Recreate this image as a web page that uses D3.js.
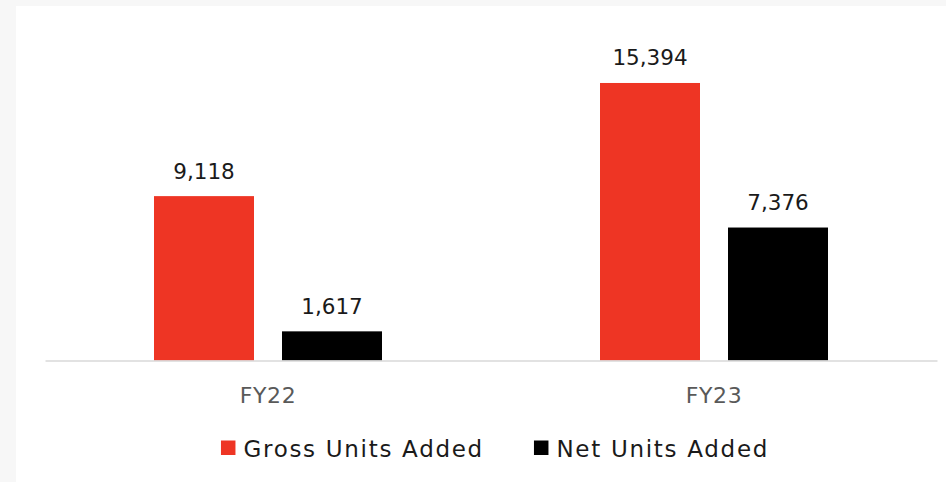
<!DOCTYPE html>
<html>
<head>
<meta charset="utf-8">
<script src="https://cdn.jsdelivr.net/npm/d3@7"></script>
<style>
  html, body { margin: 0; padding: 0; background: #f7f7f7; }
  svg { display: block; }
  text { font-family: "DejaVu Sans", "Noto Sans", sans-serif; }
</style>
</head>
<body>
<svg id="chart" width="946" height="482"></svg>
<script>
const categories = ["FY22", "FY23"];
const seriesNames = ["Gross Units Added", "Net Units Added"];
const grossValues = [9118, 15394];
const netValues = [1617, 7376];
const seriesColors = ["#EE3524", "#000000"];

const W = 946, H = 482;
const svg = d3.select("#chart");

svg.append("rect").attr("x", 0).attr("y", 0).attr("width", W).attr("height", H).attr("fill", "#f7f7f7");
svg.append("rect").attr("x", 16).attr("y", 6).attr("width", W - 16).attr("height", H - 6).attr("fill", "#ffffff");

const plot = { left: 45, right: 937, top: 36, bottom: 360.5 };

const groupW = 228;
const x0 = d3.scaleBand().domain(categories).range([plot.left, plot.right]).paddingInner(0).paddingOuter(0);
const x1 = d3.scaleBand().domain(seriesNames).range([0, groupW]).paddingInner(28 / 128).paddingOuter(0);
const y = d3.scaleLinear().domain([0, 18000]).range([plot.bottom, plot.top]);

const data = categories.map((c, i) => ({
  cat: c,
  vals: [
    { s: seriesNames[0], v: grossValues[i], color: seriesColors[0] },
    { s: seriesNames[1], v: netValues[i], color: seriesColors[1] }
  ]
}));

const groups = svg.append("g").selectAll("g").data(data).join("g")
  .attr("transform", d => `translate(${x0(d.cat) + (x0.bandwidth() - groupW) / 2},0)`);

groups.selectAll("rect").data(d => d.vals).join("rect")
  .attr("x", d => x1(d.s))
  .attr("width", x1.bandwidth())
  .attr("y", d => y(d.v))
  .attr("height", d => y(0) - y(d.v))
  .attr("fill", d => d.color);

const fmt = d3.format(",");
groups.selectAll("text.val").data(d => d.vals).join("text")
  .attr("class", "val")
  .attr("x", d => x1(d.s) + x1.bandwidth() / 2)
  .attr("y", d => y(d.v) - 17.5)
  .attr("text-anchor", "middle")
  .attr("font-size", 21.5)
  .attr("fill", "#1a1a1a")
  .text(d => fmt(d.v));

// baseline axis
const xAxis = d3.axisBottom(x0).tickSize(0).tickPadding(0);
const ax = svg.append("g").attr("transform", `translate(0,${plot.bottom})`).call(xAxis);
ax.select(".domain").attr("stroke", "#d9d9d9").attr("stroke-width", 1.5);
ax.selectAll(".tick text")
  .attr("font-size", 22)
  .attr("font-family", "DejaVu Sans, sans-serif")
  .attr("letter-spacing", 0.6)
  .attr("fill", "#595959")
  .attr("dy", 0)
  .attr("y", 42.5);

// legend
const legend = svg.append("g");
const items = legend.selectAll("g").data(seriesNames).join("g");
items.append("rect").attr("width", 14.5).attr("height", 14.5).attr("y", 440.5)
  .attr("fill", (d, i) => seriesColors[i]);
items.append("text").attr("x", 22.5).attr("y", 457).attr("font-size", 23)
  .attr("letter-spacing", 1.7).attr("fill", "#1a1a1a").text(d => d);

let widths = [];
items.each(function () { widths.push(22.5 + this.querySelector("text").getComputedTextLength()); });
const gap = 313 - widths[0];
const total = widths[0] + gap + widths[1];
let start = 495 - total / 2;
items.attr("transform", (d, i) => `translate(${i === 0 ? start : start + widths[0] + gap},0)`);
</script>
</body>
</html>
